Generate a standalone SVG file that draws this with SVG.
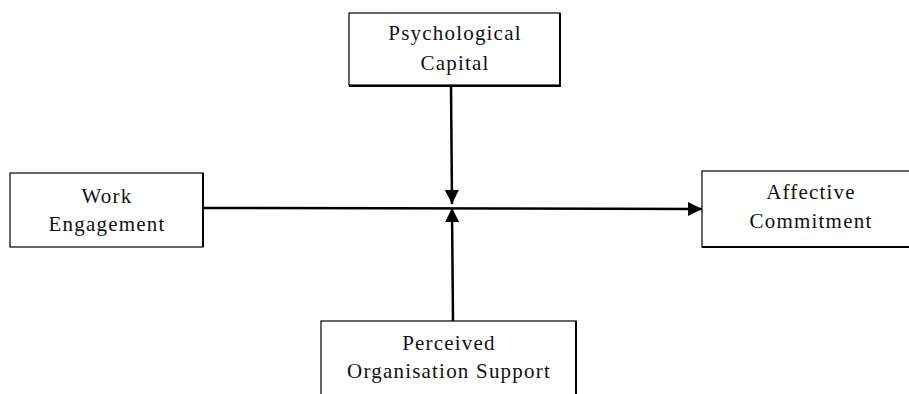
<svg xmlns="http://www.w3.org/2000/svg" width="909" height="394" viewBox="0 0 909 394">
<style>
.box{fill:#fff;stroke:#000;stroke-width:1.2}
.sh{fill:none;stroke:#000;stroke-width:2}
.t{font-family:'Liberation Serif','Times New Roman',serif;font-size:21px;letter-spacing:1.2px;fill:#111;text-anchor:middle}
.c{stroke:#000;stroke-width:2.5;fill:none}
</style>
<defs>
<marker id="ah" markerWidth="15" markerHeight="15" refX="14" refY="7.5" orient="auto" markerUnits="userSpaceOnUse" viewBox="0 0 15 15">
<path d="M0,0.5 L14,7.5 L0,14.5 Z" fill="#000"/>
</marker>
</defs>
<rect width="909" height="394" fill="#fff"/>
<g id="connectors">
<line class="c" x1="203" y1="208" x2="702" y2="209" marker-end="url(#ah)"/>
<line class="c" x1="451" y1="86" x2="452" y2="204" marker-end="url(#ah)"/>
<line class="c" x1="453" y1="321" x2="452" y2="208" marker-end="url(#ah)"/>
</g>
<g id="psychological-capital">
<rect class="box" x="349" y="13" width="211" height="72"/>
<path class="sh" d="M560,13 V86 H349"/>
<text class="t" x="455" y="40">Psychological</text>
<text class="t" x="455" y="70">Capital</text>
</g>
<g id="work-engagement">
<rect class="box" x="10" y="173" width="193" height="74"/>
<path class="sh" d="M203,173 V247"/>
<text class="t" x="107" y="203">Work</text>
<text class="t" x="107" y="231">Engagement</text>
</g>
<g id="affective-commitment">
<rect class="box" x="702" y="171" width="220" height="76"/>
<path class="sh" d="M702,247 H922"/>
<text class="t" x="811" y="199">Affective</text>
<text class="t" x="811" y="228">Commitment</text>
</g>
<g id="perceived-organisation-support">
<rect class="box" x="321" y="321" width="255" height="90"/>
<path class="sh" d="M576,321 V411"/>
<text class="t" x="449" y="350">Perceived</text>
<text class="t" x="449" y="378">Organisation Support</text>
</g>
</svg>
